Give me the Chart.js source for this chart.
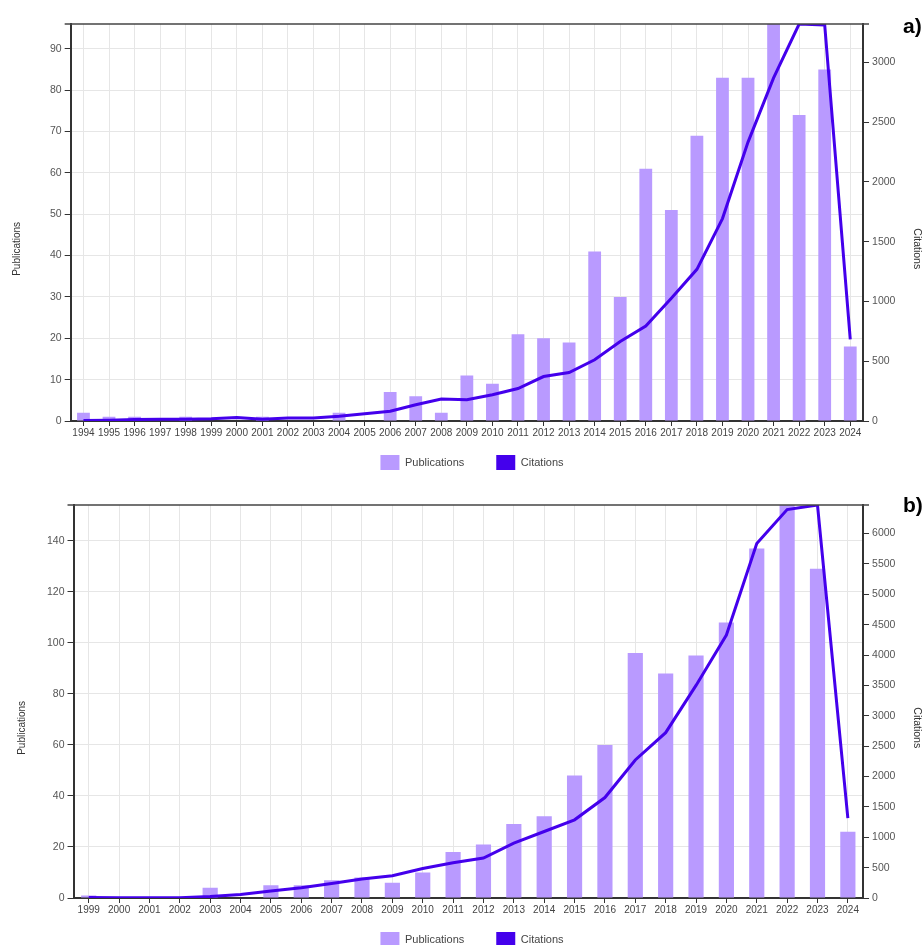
<!DOCTYPE html>
<html>
<head>
<meta charset="utf-8">
<title>Publications and citations per year</title>
<script src="https://cdn.jsdelivr.net/npm/chart.js@4.4.0/dist/chart.umd.min.js"></script>
<style>
  html, body { margin: 0; padding: 0; background: #fff; overflow: hidden; }
  body { width: 924px; height: 945px; position: relative; font-family: "Liberation Sans", Arial, sans-serif; }
  canvas { position: absolute; left: 0; }
  #chartA { top: 0; }
  #chartB { top: 481px; }
  .panel-tag { position: absolute; left: 903px; font-weight: bold; font-size: 21px; line-height: 21px; color: #000; }
</style>
</head>
<body>
<canvas id="chartA" width="924" height="497"></canvas>
<canvas id="chartB" width="924" height="493"></canvas>
<div class="panel-tag" style="top: 15px">a)</div>
<div class="panel-tag" style="top: 494px">b)</div>
<script>
// a) 1994-2024
const yearsA = ['1994', '1995', '1996', '1997', '1998', '1999', '2000', '2001', '2002', '2003', '2004',
  '2005', '2006', '2007', '2008', '2009', '2010', '2011', '2012', '2013', '2014', '2015', '2016',
  '2017', '2018', '2019', '2020', '2021', '2022', '2023', '2024'];
const pubsA = [2, 1, 1, 0, 1, 0, 0, 1, 0, 0, 2, 0, 7, 6, 2, 11, 9, 21, 20, 19, 41, 30, 61, 51, 69,
  83, 83, 96, 74, 85, 18];
const citesA = [4, 6, 12, 15, 15, 18, 30, 15, 25, 25, 40, 60, 82, 136, 184, 178, 220, 272, 372, 406,
  512, 665, 795, 1027, 1269, 1694, 2334, 2871, 3322, 3314, 684];

// b) 1999-2024
const yearsB = ['1999', '2000', '2001', '2002', '2003', '2004', '2005', '2006', '2007', '2008', '2009',
  '2010', '2011', '2012', '2013', '2014', '2015', '2016', '2017', '2018', '2019', '2020', '2021',
  '2022', '2023', '2024'];
const pubsB = [1, 0, 0, 0, 4, 0, 5, 5, 7, 8, 6, 10, 18, 21, 29, 32, 48, 60, 96, 88, 95, 108, 137,
  154, 129, 26];
const citesB = [10, 3, 3, 5, 26, 59, 115, 169, 240, 312, 367, 487, 580, 657, 904, 1095, 1287, 1654,
  2273, 2722, 3500, 4329, 5835, 6395, 6470, 1315];

const barColor = '#b99aff';
const lineColor = '#4400ec';
const gridColor = '#e6e6e6';
const axisColor = '#333';

// dark line along the top of the plot area
const topBorder = {
  id: 'topBorder',
  afterDraw(chart) {
    const { ctx, chartArea } = chart;
    ctx.save();
    ctx.strokeStyle = '#444';
    ctx.lineWidth = 1.5;
    ctx.beginPath();
    ctx.moveTo(chartArea.left - 6, chartArea.top);
    ctx.lineTo(chartArea.right + 6, chartArea.top);
    ctx.stroke();
    ctx.restore();
  }
};

// pull the legend up under the year labels and nudge it right a little
const legendLift = {
  id: 'legendLift',
  afterLayout(chart) {
    const lg = chart.legend;
    const dy = lg.top - (chart.chartArea.bottom + 2);
    lg.top -= dy;
    lg.bottom -= dy;
    lg.left += 10;
    lg.right += 10;
  }
};

// ticks only at whole multiples of the step, axis ends at the data max
const stepTicks = step => scale => {
  const ticks = [];
  for (let v = 0; v <= scale.max; v += step) ticks.push({ value: v });
  scale.ticks = ticks;
};

// axis titles sit a bit below the middle of the axis in the original
const leftTitle = 'Publications' + ' '.repeat(19);
const rightTitle = ' '.repeat(18) + 'Citations';

function buildChart(canvas, years, pubs, cites, pubStep, citeStep, leftTitlePad) {
  return new Chart(canvas, {
    type: 'bar',
    data: {
      labels: years,
      datasets: [{
        label: 'Publications',
        data: pubs,
        backgroundColor: barColor,
        barPercentage: 0.5,
        categoryPercentage: 1,
        yAxisID: 'y',
        order: 1
      }, {
        type: 'line',
        label: 'Citations',
        data: cites,
        borderColor: lineColor,
        backgroundColor: lineColor,
        borderWidth: 3,
        pointRadius: 0,
        tension: 0,
        yAxisID: 'y1',
        order: 0
      }]
    },
    options: {
      responsive: false,
      animation: false,
      layout: { padding: { top: 24, left: 0, right: 0, bottom: 0 } },
      plugins: {
        legend: {
          position: 'bottom',
          labels: {
            boxWidth: 19,
            boxHeight: 15,
            padding: 32,
            color: '#444',
            font: { size: 11 },
            generateLabels: chart => Chart.defaults.plugins.legend.labels.generateLabels(chart)
              .map(item => ({ ...item, lineWidth: 0 })),
            sort: (a, b) => a.datasetIndex - b.datasetIndex
          }
        },
        tooltip: { enabled: false }
      },
      scales: {
        x: {
          offset: true,
          grid: { offset: false, color: gridColor, tickColor: axisColor, tickLength: 5 },
          border: { color: axisColor, width: 2 },
          ticks: { autoSkip: false, maxRotation: 0, padding: 1, color: '#444', font: { size: 10 } }
        },
        y: {
          position: 'left',
          min: 0,
          max: Math.max(...pubs),
          afterBuildTicks: stepTicks(pubStep),
          grid: { color: gridColor, tickColor: axisColor, tickLength: 6 },
          border: { color: axisColor, width: 2 },
          ticks: { padding: 3, color: '#555', font: { size: 10.5 }, callback: v => String(v) },
          title: {
            display: true,
            text: leftTitle,
            color: '#333',
            font: { size: 10 },
            padding: leftTitlePad
          }
        },
        y1: {
          position: 'right',
          min: 0,
          max: Math.max(...cites),
          afterBuildTicks: stepTicks(citeStep),
          grid: { drawOnChartArea: false, tickColor: axisColor, tickLength: 6 },
          border: { color: axisColor, width: 2 },
          ticks: { padding: 3, color: '#555', font: { size: 10.5 }, callback: v => String(v) },
          title: {
            display: true,
            text: rightTitle,
            color: '#333',
            font: { size: 10.5 },
            padding: { top: 1, bottom: 12 }
          }
        }
      }
    },
    plugins: [topBorder, legendLift]
  });
}

buildChart(document.getElementById('chartA'), yearsA, pubsA, citesA, 10, 500, { top: 11, bottom: 24 });
buildChart(document.getElementById('chartB'), yearsB, pubsB, citesB, 20, 500, { top: 16, bottom: 16 });
</script>
</body>
</html>
